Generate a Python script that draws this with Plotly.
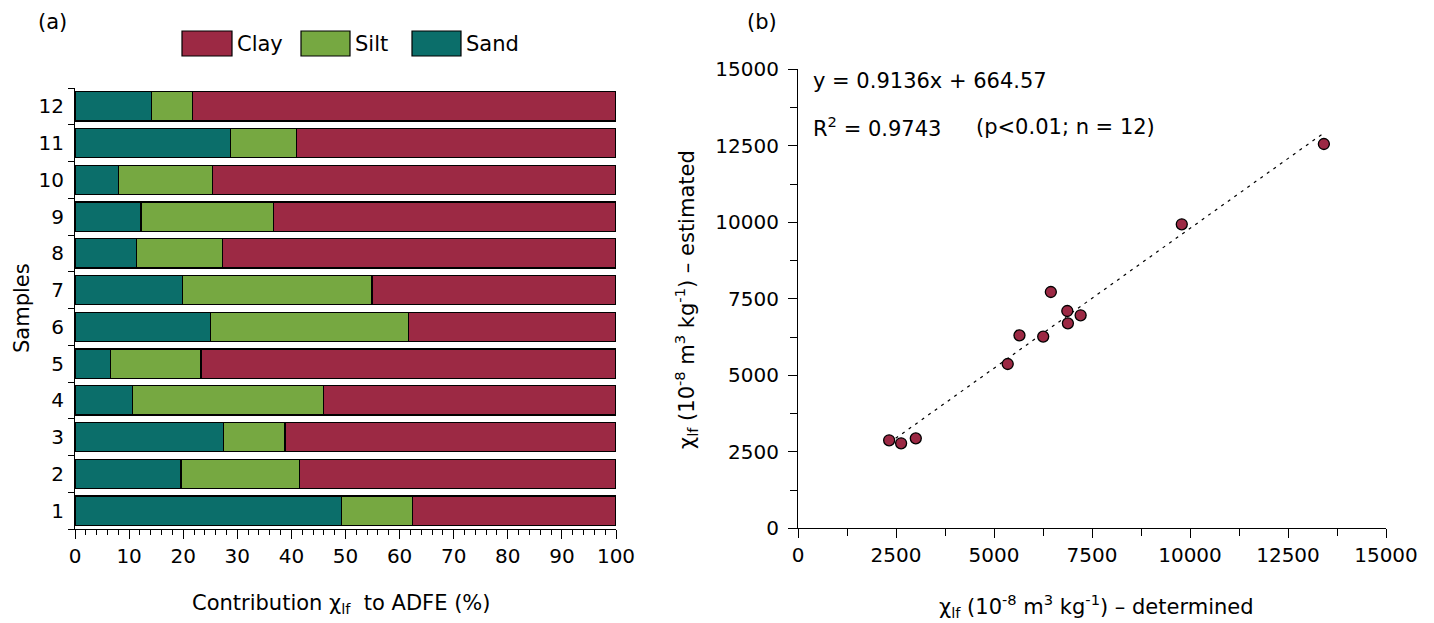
import plotly.graph_objects as go

# ---------------- data ----------------
samples = ["1", "2", "3", "4", "5", "6", "7", "8", "9", "10", "11", "12"]
sand = [49.2, 19.6, 27.4, 10.7, 6.6, 25.0, 19.8, 11.3, 12.2, 8.1, 28.7, 14.2]
silt = [13.2, 21.9, 11.4, 35.3, 16.7, 36.6, 35.1, 16.0, 24.5, 17.3, 12.3, 7.5]
clay = [100 - a - b for a, b in zip(sand, silt)]

determined = [2325, 2630, 3005, 5350, 5650, 6255, 6450, 6870, 6885, 7210, 9790, 13415]
estimated = [2876, 2778, 2941, 5369, 6307, 6264, 7722, 7101, 6699, 6961, 9935, 12559]
slope, intercept = 0.9136, 664.57
ticks_b = [0, 2500, 5000, 7500, 10000, 12500, 15000]

CLAY = "#9C2944"
SILT = "#76A841"
SAND = "#0B6E6A"
FONT = "DejaVu Sans"
OFF = 8                      # page body margin
W, H = 1434 - OFF, 623 - OFF

fig = go.Figure()

for name, vals, col in [("Sand", sand, SAND), ("Silt", silt, SILT), ("Clay", clay, CLAY)]:
    fig.add_trace(go.Bar(
        y=samples, x=vals, orientation="h", name=name,
        marker=dict(color=col, line=dict(color="black", width=1.2)),
        width=0.8, xaxis="x", yaxis="y", showlegend=False,
    ))

line_x = [min(determined), max(determined)]
line_y = [slope * v + intercept for v in line_x]
fig.add_trace(go.Scatter(
    x=line_x, y=line_y, mode="lines", xaxis="x2", yaxis="y2",
    line=dict(color="black", width=1.2, dash="3px,5px"), showlegend=False,
))
fig.add_trace(go.Scatter(
    x=determined, y=estimated, mode="markers", xaxis="x2", yaxis="y2",
    marker=dict(color=CLAY, size=11, line=dict(color="black", width=1.3)),
    showlegend=False,
))


def px(x):
    return (x - OFF) / W


def py(y):
    return 1 - (y - OFF) / H


tickfont = dict(family=FONT, size=20, color="black")
textfont = dict(family=FONT, size=21, color="black")

common = dict(ticks="outside", tickwidth=1.2, tickcolor="black", showline=True,
              linecolor="black", linewidth=1.2, showgrid=False, zeroline=False,
              tickfont=tickfont, automargin=False)

fig.update_layout(
    template="none",
    width=W, height=H, margin=dict(l=0, r=0, t=0, b=0, pad=0),
    plot_bgcolor="white", paper_bgcolor="white",
    barmode="stack", bargap=0.2,
    font=dict(family=FONT, size=20, color="black"),
    xaxis=dict(
        domain=[px(75), px(616)], range=[0, 100], anchor="y",
        tickvals=list(range(0, 101, 10)), ticklen=9,
        minor=dict(dtick=2, ticks="outside", ticklen=5, tickwidth=1, tickcolor="black", showgrid=False),
        **common,
    ),
    yaxis=dict(
        domain=[py(529), py(88)], anchor="x", type="category",
        range=[-0.5, 11.5], tickson="boundaries", ticklen=6, ticklabelstandoff=6,
        **common,
    ),
    xaxis2=dict(
        domain=[px(798), px(1386)], range=[0, 15000], anchor="y2",
        tickvals=ticks_b, tickformat="d", ticklen=9,
        minor=dict(dtick=1250, ticks="outside", ticklen=7, tickwidth=1, tickcolor="black", showgrid=False),
        **common,
    ),
    yaxis2=dict(
        domain=[py(528.3), py(69.3)], range=[0, 15000], anchor="x2",
        tickvals=ticks_b, tickformat="d", ticklen=9, ticklabelstandoff=5,
        minor=dict(dtick=1250, ticks="outside", ticklen=7, tickwidth=1, tickcolor="black", showgrid=False),
        **common,
    ),
)

# legend drawn as swatches + labels
shapes = []
annots = []
legend_items = [("Clay", CLAY, 182, 232), ("Silt", SILT, 301, 350), ("Sand", SAND, 412, 461)]
for name, col, x0, x1 in legend_items:
    shapes.append(dict(type="rect", xref="paper", yref="paper",
                       x0=px(x0), x1=px(x1), y0=py(56), y1=py(31),
                       fillcolor=col, line=dict(color="black", width=1.2)))
    annots.append(dict(text=name, xref="paper", yref="paper", x=px(x1 + 3), y=py(43.5),
                       xanchor="left", yanchor="middle", showarrow=False, font=textfont))


def label(text, x, y, xanchor="center", angle=0):
    return dict(text=text, xref="paper", yref="paper", x=px(x), y=py(y), xanchor=xanchor,
                yanchor="middle", showarrow=False, font=textfont, textangle=angle)


annots += [
    label("(a)", 52, 22),
    label("(b)", 762, 22),
    label("y = 0.9136x + 664.57", 811, 81, "left"),
    label("R<sup>2</sup> = 0.9743", 811, 127, "left"),
    label("(p&lt;0.01; n = 12)", 974, 127, "left"),
    label("Contribution χ<sub>lf</sub>  to ADFE (%)", 341, 604),
    label("Samples", 22, 308, angle=-90),
    label("χ<sub>lf</sub> (10<sup>-8</sup> m<sup>3</sup> kg<sup>-1</sup>) – determined", 1096, 606),
    label("χ<sub>lf</sub> (10<sup>-8</sup> m<sup>3</sup> kg<sup>-1</sup>) – estimated", 686, 300, angle=-90),
]
fig.update_layout(shapes=shapes, annotations=annots)

fig.write_html("out.html")
